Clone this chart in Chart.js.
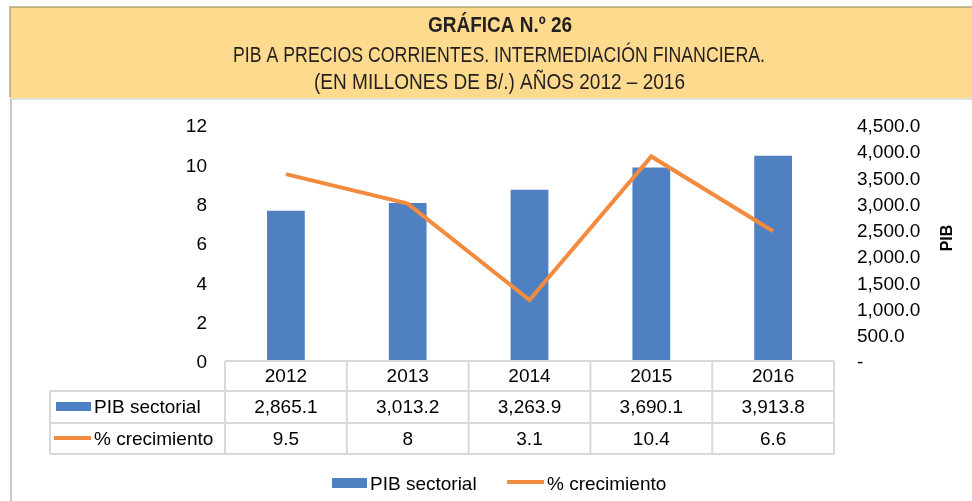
<!DOCTYPE html>
<html>
<head>
<meta charset="utf-8">
<script src="https://cdn.jsdelivr.net/npm/chart.js@4.4.0/dist/chart.umd.min.js"></script>
<style>
  html, body { margin: 0; padding: 0; background: #fff; }
  #wrap { position: relative; width: 972px; height: 501px; }
</style>
</head>
<body>
<div id="wrap"><canvas id="myChart" width="972" height="501"></canvas></div>
<script>
const years = ['2012', '2013', '2014', '2015', '2016']
const pibSectorial = [2865.1, 3013.2, 3263.9, 3690.1, 3913.8]
const crecimiento = [9.5, 8, 3.1, 10.4, 6.6]
const pibLabels = ['2,865.1', '3,013.2', '3,263.9', '3,690.1', '3,913.8']
const crecLabels = ['9.5', '8', '3.1', '10.4', '6.6']
const titleLines = ['GRÁFICA N.º 26', 'PIB A PRECIOS CORRIENTES. INTERMEDIACIÓN FINANCIERA.', '(EN MILLONES DE B/.) AÑOS 2012 – 2016']

const blue = '#4F81C2'
const orange = '#F38B3F'
const gridGray = '#D9D9D9'
const font = 'Liberation Sans, Arial, sans-serif'

// fits text to a given width (condensed look of the original title)
const fitText = (ctx, text, cx, y, w) => {
    const tw = ctx.measureText(text).width
    ctx.save()
    ctx.translate(cx, y)
    ctx.scale(w / tw, 1)
    ctx.textAlign = 'center'
    ctx.fillText(text, 0, 0)
    ctx.restore()
}

const decorPlugin = {
    id: 'decor',
    beforeDraw: (chart) => {
        const ctx = chart.ctx
        ctx.save()
        // header band
        ctx.fillStyle = '#FDDA8E'
        ctx.fillRect(10, 7, 962, 91)
        ctx.strokeStyle = '#B4A27C'
        ctx.lineWidth = 1.5
        ctx.beginPath()
        ctx.moveTo(10, 97)
        ctx.lineTo(10, 7)
        ctx.lineTo(972, 7)
        ctx.stroke()
        ctx.strokeStyle = '#E2E2E2'
        ctx.lineWidth = 2
        ctx.beginPath()
        ctx.moveTo(10, 99)
        ctx.lineTo(972, 99)
        ctx.stroke()
        ctx.strokeStyle = '#C9C9C9'
        ctx.beginPath()
        ctx.moveTo(11, 99)
        ctx.lineTo(11, 501)
        ctx.stroke()

        ctx.fillStyle = '#231F20'
        ctx.textBaseline = 'alphabetic'
        ctx.font = 'bold 22px ' + font
        fitText(ctx, titleLines[0], 500, 32, 144)
        ctx.font = '22px ' + font
        fitText(ctx, titleLines[1], 499, 62, 532)
        fitText(ctx, titleLines[2], 499.5, 89, 371)
        ctx.restore()
    },
    afterDraw: (chart) => {
        const ctx = chart.ctx
        const x = chart.scales.x
        const area = chart.chartArea
        const colW = x.getPixelForValue(1) - x.getPixelForValue(0)
        const left = area.left
        const right = x.getPixelForValue(years.length - 1) + colW / 2
        const rows = [area.bottom, 391, 423, 454]
        const firstColLeft = 50

        ctx.save()
        ctx.strokeStyle = gridGray
        ctx.lineWidth = 2
        ctx.beginPath()
        ctx.moveTo(left, rows[0]); ctx.lineTo(right, rows[0])
        for (let r = 1; r < rows.length; r++) {
            ctx.moveTo(firstColLeft, rows[r]); ctx.lineTo(right, rows[r])
        }
        ctx.moveTo(firstColLeft, rows[1]); ctx.lineTo(firstColLeft, rows[3])
        for (let i = 0; i <= years.length; i++) {
            const xx = left + i * colW
            ctx.moveTo(xx, rows[0]); ctx.lineTo(xx, rows[3])
        }
        ctx.stroke()

        ctx.fillStyle = '#000'
        ctx.font = '19px ' + font
        ctx.textAlign = 'center'
        ctx.textBaseline = 'middle'
        years.forEach((yr, i) => {
            const cx = x.getPixelForValue(i)
            ctx.fillText(yr, cx, (rows[0] + rows[1]) / 2 + 1)
            ctx.fillText(pibLabels[i], cx, (rows[1] + rows[2]) / 2 + 1)
            ctx.fillText(crecLabels[i], cx, (rows[2] + rows[3]) / 2 + 1)
        })

        // row headers
        ctx.textAlign = 'left'
        ctx.fillStyle = blue
        ctx.fillRect(56, 402, 35, 9)
        ctx.strokeStyle = orange
        ctx.lineWidth = 4
        ctx.beginPath()
        ctx.moveTo(54, 438); ctx.lineTo(91, 438)
        ctx.stroke()
        ctx.fillStyle = '#000'
        ctx.fillText('PIB sectorial', 94, 408)
        ctx.fillText('% crecimiento', 94, 440)

        // bottom legend
        ctx.fillStyle = blue
        ctx.fillRect(332, 478, 35, 10)
        ctx.beginPath()
        ctx.moveTo(507, 482); ctx.lineTo(544, 482)
        ctx.stroke()
        ctx.fillStyle = '#000'
        ctx.fillText('PIB sectorial', 370, 485)
        ctx.fillText('% crecimiento', 547, 485)

        // right axis title
        ctx.save()
        ctx.translate(948, 238)
        ctx.rotate(-Math.PI / 2)
        ctx.textAlign = 'center'
        ctx.font = 'bold 16px ' + font
        ctx.fillText('PIB', 0, 0)
        ctx.restore()
        ctx.restore()
    }
}

let ctx = document.getElementById('myChart').getContext('2d')
let myChart = new Chart(ctx, {
    type: 'bar',
    data: {
        labels: years,
        datasets: [
            {
                type: 'line',
                label: '% crecimiento',
                data: crecimiento,
                yAxisID: 'y',
                borderColor: orange,
                backgroundColor: orange,
                borderWidth: 4,
                pointRadius: 0,
                tension: 0,
                order: 0
            },
            {
                type: 'bar',
                label: 'PIB sectorial',
                data: pibSectorial,
                yAxisID: 'y1',
                backgroundColor: blue,
                borderWidth: 0,
                categoryPercentage: 1,
                barPercentage: 0.31,
                order: 1
            }
        ]
    },
    options: {
        responsive: false,
        animation: false,
        events: [],
        layout: { padding: { top: 125, bottom: 140, left: 0, right: 0 } },
        plugins: {
            legend: { display: false },
            tooltip: { enabled: false }
        },
        scales: {
            x: { display: false, offset: true },
            y: {
                position: 'left',
                min: 0,
                max: 12,
                grid: { display: false, drawTicks: false },
                border: { display: false },
                ticks: { stepSize: 2, padding: 18, labelOffset: 2, color: '#000', font: { family: font, size: 19 } },
                afterFit: (scale) => { scale.width = 225 }
            },
            y1: {
                position: 'right',
                min: 0,
                max: 4500,
                grid: { display: false, drawTicks: false },
                border: { display: false },
                ticks: {
                    stepSize: 500,
                    padding: 23,
                    labelOffset: 2,
                    color: '#000',
                    font: { family: font, size: 19 },
                    callback: (val) => val === 0 ? '-' : val.toLocaleString('en-US', { minimumFractionDigits: 1, maximumFractionDigits: 1 })
                },
                afterFit: (scale) => { scale.width = 138 }
            }
        }
    },
    plugins: [decorPlugin]
})
</script>
</body>
</html>
